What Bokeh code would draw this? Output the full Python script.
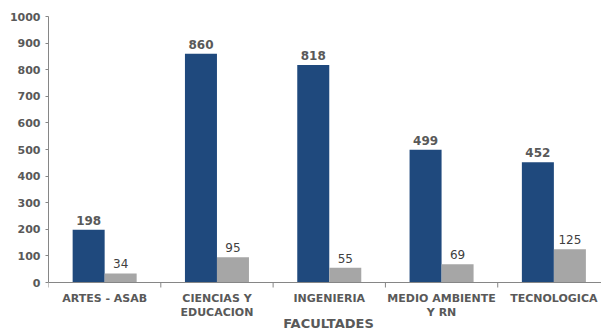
from bokeh.plotting import figure
from bokeh.models import FixedTicker, ColumnDataSource, Range1d, Span
from bokeh.core.properties import value
from bokeh.embed import file_html
from bokeh.resources import INLINE

categories = ["ARTES - ASAB", "CIENCIAS Y\nEDUCACION", "INGENIERIA", "MEDIO AMBIENTE\nY RN", "TECNOLOGICA"]
series_a = [198, 860, 818, 499, 452]
series_b = [34, 95, 55, 69, 125]
y_ticks = [0, 100, 200, 300, 400, 500, 600, 700, 800, 900, 1000]
x_title = "FACULTADES"

BLUE = "#1F497D"
GRAY = "#A6A6A6"
TXT = "#595959"
AXC = "#868686"
FONT = "DejaVu Sans"

W, H = 601, 331
TOP, LEFT = 16, 48
Y_LO, Y_HI = -184.2, 1000
X_HI = 4.924
upp = (Y_HI - Y_LO) / (H - TOP)  # data units per pixel (vertical)

n = len(categories)
centers = [i + 0.5 for i in range(n)]
bounds = list(range(n + 1))
bw = 0.285
xa = [c - bw / 2 for c in centers]
xb = [c + bw / 2 for c in centers]

p = figure(width=W, height=H, output_backend="svg", toolbar_location=None,
           x_range=Range1d(0, X_HI), y_range=Range1d(Y_LO, Y_HI),
           min_border_left=LEFT, min_border_right=0, min_border_top=TOP, min_border_bottom=0)
p.outline_line_color = None
p.xgrid.grid_line_color = None
p.ygrid.grid_line_color = None
p.background_fill_color = "white"
p.border_fill_color = "white"
p.xaxis.visible = False

src_a = ColumnDataSource(dict(x=xa, top=series_a, lab=[str(v) for v in series_a]))
src_b = ColumnDataSource(dict(x=xb, top=series_b, lab=[str(v) for v in series_b]))

p.vbar(x="x", top="top", bottom=0, width=bw, source=src_a, fill_color=BLUE, line_color=None)
p.vbar(x="x", top="top", bottom=0, width=bw, source=src_b, fill_color=GRAY, line_color=None)

p.text(x="x", y="top", text="lab", source=src_a, text_align="center", text_baseline="bottom",
       y_offset=-5, text_font=value(FONT), text_font_style="bold", text_font_size="12px", text_color=TXT)
p.text(x="x", y="top", text="lab", source=src_b, text_align="center", text_baseline="bottom",
       y_offset=-5, text_font=value(FONT), text_font_size="12px", text_color="#404040")

# category axis (drawn inside the frame below zero)
p.add_layout(Span(location=0, dimension="width", line_color=AXC, line_width=1))
p.segment(x0=bounds, y0=[0] * len(bounds), x1=bounds, y1=[-5 * upp] * len(bounds),
          line_color=AXC, line_width=1)
p.text(x=centers, y=[0] * n, text=categories, text_align="center", text_baseline="top",
       y_offset=9, text_font=value(FONT), text_font_style="bold", text_font_size="11px",
       text_line_height=1.1, text_color=TXT)
p.text(x=[(328 - LEFT) / ((W - LEFT) / X_HI)], y=[0], text=[x_title], text_align="center",
       text_baseline="middle", y_offset=41, text_font=value(FONT), text_font_style="bold",
       text_font_size="13px", text_color=TXT)

# y axis
ya = p.yaxis[0]
ya.ticker = FixedTicker(ticks=y_ticks)
ya.bounds = (0, Y_HI)
ya.axis_line_color = AXC
ya.major_tick_line_color = AXC
ya.major_tick_out = 3
ya.major_tick_in = 0
ya.minor_tick_line_color = None
ya.major_label_standoff = 5
ya.major_label_text_font = FONT
ya.major_label_text_font_style = "bold"
ya.major_label_text_font_size = "11px"
ya.major_label_text_color = TXT

open("out.html", "w").write(file_html(p, INLINE))
